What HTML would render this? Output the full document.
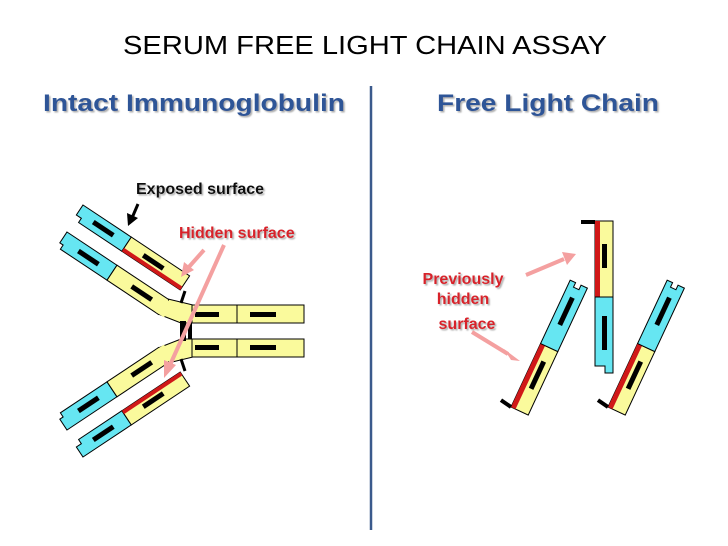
<!DOCTYPE html>
<html><head><meta charset="utf-8"><style>
html,body{margin:0;padding:0;background:#fff;}
svg{display:block;}
</style></head><body>
<svg width="728" height="546" viewBox="0 0 728 546" xmlns="http://www.w3.org/2000/svg">
<defs>
<filter id="sh" x="-5%" y="-20%" width="110%" height="150%"><feDropShadow dx="1.5" dy="1.5" stdDeviation="0.8" flood-color="#999" flood-opacity="0.8"/></filter>
<g id="arm">
  <polygon points="168,299 193,305 193,323 181,323 158,314" fill="#fafa9c" stroke="#000" stroke-width="1"/>
  <g transform="translate(67,232) rotate(33.6)">
    <polygon points="0,0 60,0 60,18 4,18 4,13 0,13" fill="#66e6f2" stroke="#000" stroke-width="1"/>
    <polygon points="60,0 122,0 126,9 122,18 60,18" fill="#fafa9c" stroke="#000" stroke-width="1"/>
    <rect x="118" y="1" width="10" height="16.5" fill="#fafa9c"/>
    <rect x="20" y="7" width="24" height="5" fill="#000"/>
    <rect x="84" y="7" width="24" height="5" fill="#000"/>
  </g>
  <g transform="translate(83,205) rotate(33.6)">
    <polygon points="0,0 58,0 58,17 6,17 6,12 0,12 0,0" fill="#66e6f2" stroke="#000" stroke-width="1"/>
    <rect x="58" y="0" width="70" height="17" fill="#fafa9c" stroke="#000" stroke-width="1"/>
    <rect x="58" y="13" width="70" height="4" fill="#d01818"/>
    <rect x="18" y="6" width="24" height="5" fill="#000"/>
    <rect x="78" y="6" width="24" height="5" fill="#000"/>
  </g>
  <polyline points="185,291 181,303" fill="none" stroke="#000" stroke-width="3"/>
  <rect x="192" y="305" width="112" height="18" fill="#fafa9c" stroke="#000" stroke-width="1"/>
  <line x1="237" y1="305" x2="237" y2="323" stroke="#000"/>
  <rect x="195" y="312" width="24" height="5" fill="#000"/>
  <rect x="250" y="312" width="26" height="5" fill="#000"/>
</g>
</defs>

<text x="365" y="54" text-anchor="middle" font-family="Liberation Sans, sans-serif" font-size="26" fill="#000" textLength="484" lengthAdjust="spacingAndGlyphs">SERUM FREE LIGHT CHAIN ASSAY</text>

<g font-family="Liberation Sans, sans-serif" font-weight="bold" font-size="24" fill="#2f5597" filter="url(#sh)">
<text x="43" y="111" textLength="302" lengthAdjust="spacingAndGlyphs">Intact Immunoglobulin</text>
<text x="437" y="111" textLength="222" lengthAdjust="spacingAndGlyphs">Free Light Chain</text>
</g>

<line x1="371" y1="86" x2="371" y2="530" stroke="#3b5a8c" stroke-width="2.5"/>

<use href="#arm"/>
<use href="#arm" transform="translate(0,662) scale(1,-1)"/>
<rect x="180" y="321" width="6" height="20" fill="#000"/>
<rect x="188" y="323" width="4" height="16" fill="#000"/>

<g font-family="Liberation Sans, sans-serif" font-weight="bold" font-size="16" filter="url(#sh)">
<text x="136" y="194" fill="#111">Exposed surface</text>
<text x="179" y="238" fill="#d8222a">Hidden surface</text>
<text x="463" y="284" fill="#d8222a" text-anchor="middle">Previously</text>
<text x="463" y="304" fill="#d8222a" text-anchor="middle">hidden</text>
<text x="467" y="329" fill="#d8222a" text-anchor="middle">surface</text>
</g>

<line x1="138" y1="204" x2="132" y2="218" stroke="#000" stroke-width="3"/>
<polygon points="128,226 127,213 138,218" fill="#000"/>

<g stroke="#f4a0a0" stroke-width="4" fill="#f4a0a0">
<line x1="204" y1="250" x2="188" y2="268"/>
<polygon points="181,277 184,262 194,270" stroke="none"/>
<line x1="224" y1="245" x2="170" y2="365"/>
<polygon points="164,378 164,360 176,365" stroke="none"/>
<line x1="526" y1="275" x2="564" y2="259"/>
<polygon points="576,254 562,252 567,265" stroke="none"/>
<line x1="472" y1="332" x2="508" y2="354"/>
<polygon points="520,361 504,349 511,360" stroke="none"/>
</g>

<polyline points="581,222 595,222" stroke="#000" stroke-width="4" fill="none"/>
<rect x="595" y="221" width="18" height="76" fill="#fafa9c" stroke="#000" stroke-width="1"/>
<rect x="595" y="221" width="5" height="76" fill="#d01818"/>
<polygon points="595,297 613,297 613,373 605,373 605,366 595,366" fill="#66e6f2" stroke="#000" stroke-width="1"/>
<rect x="602" y="244" width="5" height="24" fill="#000"/>
<rect x="602" y="316" width="5" height="34" fill="#000"/>

<g id="tc" transform="translate(511,407) rotate(25)">
  <rect x="0" y="-70" width="19" height="70" fill="#fafa9c" stroke="#000" stroke-width="1"/>
  <rect x="0" y="-70" width="5" height="70" fill="#d01818"/>
  <polygon points="0,-70 19,-70 19,-140 12,-140 12,-135 6,-135 6,-140 0,-140" fill="#66e6f2" stroke="#000" stroke-width="1"/>
  <rect x="8" y="-55" width="5" height="30" fill="#000"/>
  <rect x="7" y="-125" width="5" height="30" fill="#000"/>
  <polyline points="-12,-2 0,0" stroke="#000" stroke-width="4" fill="none"/>
</g>
<use href="#tc" transform="translate(97,0)"/>
</svg>
</body></html>
